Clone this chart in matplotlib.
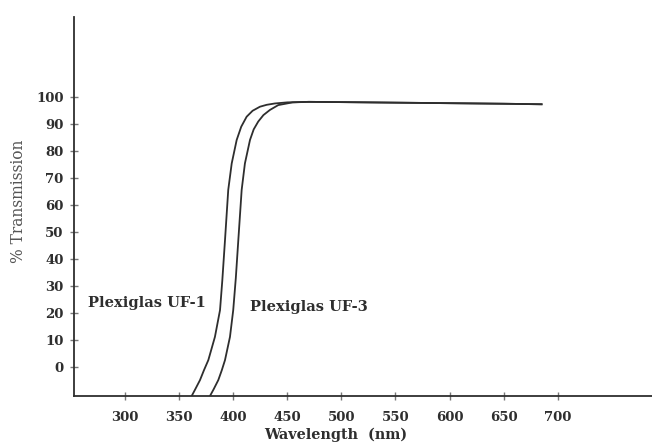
import matplotlib.pyplot as plt

# transmission curves (wavelength nm, % transmission)
uf1_nm = [361.7, 365, 369.4, 373, 377.1, 383.2, 387.9, 390, 392.5, 395.5, 398.7, 403.3, 407.5, 412.5, 418, 424.8, 431,
          438.6, 450, 470, 500, 550, 600, 650, 685]
uf1_pct = [-10.7, -8.2, -4.8, -1.2, 2.6, 11.2, 21.1, 32, 47.0, 65.6, 75.4, 84.1, 89.0, 92.7, 94.9, 96.4, 97.1,
           97.6, 98.0, 98.2, 98.1, 97.9, 97.7, 97.5, 97.3]

uf3_nm = [378.6, 382, 386.3, 389.5, 392.5, 397.1, 400.1, 402.5, 404.8, 407.9, 410.9, 415.6, 419, 423.2, 428, 434.0,
          441.7, 455, 470, 500, 550, 600, 650, 685]
uf3_pct = [-10.7, -8.2, -4.8, -1.2, 2.6, 11.2, 21.1, 33, 47.0, 65.6, 75.4, 84.1, 88.0, 90.9, 93.3, 95.2,
           97.0, 98.0, 98.2, 98.1, 97.9, 97.7, 97.5, 97.3]

x_ticks = [300, 350, 400, 450, 500, 550, 600, 650, 700]
y_ticks = [0, 10, 20, 30, 40, 50, 60, 70, 80, 90, 100]

INK = '#2e2e2e'
SERIF = 'DejaVu Serif'

fig = plt.figure(figsize=(6.52, 4.42), dpi=100)
ax = fig.add_axes([0.1135, 0.104, 0.8865, 0.8575])

ax.plot(uf1_nm, uf1_pct, color=INK, lw=1.3)
ax.plot(uf3_nm, uf3_pct, color=INK, lw=1.3)

ax.set_xlim(253, 787)
ax.set_ylim(-10.7, 129.6)

for s in ['top', 'right']:
    ax.spines[s].set_visible(False)
for s in ['left', 'bottom']:
    ax.spines[s].set_color(INK)
    ax.spines[s].set_linewidth(1.3)

ax.set_xticks(x_ticks)
ax.set_yticks(y_ticks)
ax.tick_params(direction='inout', length=6, width=1, color='#777777', labelcolor=INK)
ax.tick_params(axis='x', pad=7.5)
ax.tick_params(axis='y', pad=4.5)
for lab in ax.get_xticklabels() + ax.get_yticklabels():
    lab.set_family(SERIF)
    lab.set_fontweight('bold')
    lab.set_fontsize(9.5)

ax.set_xlabel('Wavelength  (nm)', family=SERIF, fontweight='bold', fontsize=10.4, color=INK)
ax.xaxis.set_label_coords(0.453, -0.0844)
ax.set_ylabel('% Transmission', family=SERIF, fontsize=11.2, color='#555555')
ax.yaxis.set_label_coords(-0.0813, 0.5145)

ax.text(266, 23.7, 'Plexiglas UF-1', family=SERIF, fontweight='bold', fontsize=10.5, color=INK, va='center')
ax.text(415.6, 22.2, 'Plexiglas UF-3', family=SERIF, fontweight='bold', fontsize=10.5, color=INK, va='center')

fig.savefig('out.png', dpi=100)
